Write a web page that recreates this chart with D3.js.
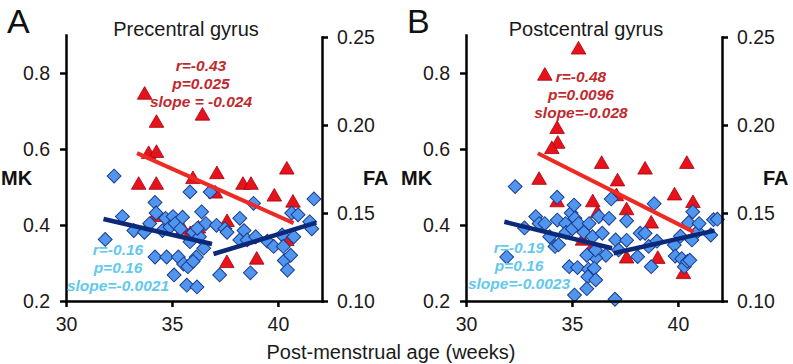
<!DOCTYPE html>
<html>
<head>
<meta charset="utf-8">
<script src="https://cdn.jsdelivr.net/npm/d3@7"></script>
<style>
  body { margin: 0; background: #fff; }
  svg text { font-family: "Liberation Sans", Arial, sans-serif; }
  .axis path, .axis line { stroke: #000; stroke-width: 2.5px; }
  .axis text { font-size: 19.5px; fill: #1a1a1a; }
</style>
</head>
<body>
<svg id="chart" width="793" height="364"></svg>
<script>
// ---- data ----
var ageTicks = [30, 35, 40];
var mkTicks = [0.2, 0.4, 0.6, 0.8];
var faTicks = [0.10, 0.15, 0.20, 0.25];

// Precentral gyrus: MK (red triangles, left axis)
var preMkAge = [33.71, 34.27, 36.44, 33.9, 34.27, 40.42, 37.12, 35.99, 33.43, 34.26, 38.35, 38.73,
                37.05, 39.83, 40.71, 34.2, 35.52, 36.25, 37.6, 37.59, 39.0, 40.42, 35.86];
var preMk    = [0.742, 0.668, 0.687, 0.586, 0.589, 0.545, 0.533, 0.520, 0.505, 0.505, 0.505, 0.505,
                0.482, 0.474, 0.458, 0.420, 0.387, 0.390, 0.407, 0.299, 0.308, 0.357, 0.375];
// Precentral gyrus: FA (blue diamonds, right axis)
var preFaAge = [31.85, 32.27, 32.66, 33.2, 33.7, 33.95, 34.2, 34.25, 34.2, 34.55, 34.7, 34.75, 34.9, 35.05,
                35.15, 35.1, 35.3, 35.4, 35.5, 35.55, 35.75, 35.7, 35.85, 35.85, 36.0, 36.15, 36.0, 36.18,
                36.3, 36.4, 36.5, 36.6, 36.8, 37.1, 37.25, 37.5, 37.6, 38.2, 38.2, 38.4, 38.55, 38.7,
                38.85, 38.95, 39.5, 39.8, 40.2, 40.25, 40.3, 40.45, 40.6, 40.65, 40.75, 40.95, 41.5,
                41.6, 41.7, 36.2];
var preFa    = [0.135, 0.171, 0.148, 0.140, 0.139, 0.144, 0.156, 0.150, 0.125, 0.140, 0.147, 0.125, 0.142, 0.148,
                0.144, 0.1148, 0.125, 0.141, 0.1476, 0.121, 0.1195, 0.109, 0.162, 0.1337, 0.139, 0.125, 0.1225, 0.108,
                0.1365, 0.1507, 0.130, 0.144, 0.162, 0.143, 0.1148, 0.141, 0.139, 0.147, 0.1347, 0.140, 0.1347, 0.116,
                0.1555, 0.1365, 0.134, 0.131, 0.1375, 0.131, 0.123, 0.1176, 0.126, 0.150, 0.1365, 0.149, 0.145,
                0.141, 0.158, 0.1413];
var preMkFit = [[33.35, 0.589], [40.74, 0.405]];
var preFaFit1 = [[31.77, 0.1466], [36.89, 0.1324]];
var preFaFit2 = [[36.96, 0.1267], [41.81, 0.1445]];

// Postcentral gyrus: MK
var postMkAge = [35.31, 33.72, 34.3, 34.33, 34.05, 36.4, 38.45, 40.42, 33.45, 37.15, 39.84, 35.98,
                 34.3, 40.71, 37.58, 38.74, 36.2, 35.5, 35.92, 37.58, 39.05, 40.26, 37.1];
var postMk    = [0.861, 0.792, 0.652, 0.613, 0.599, 0.560, 0.545, 0.560, 0.518, 0.514, 0.477, 0.459,
                 0.459, 0.457, 0.438, 0.403, 0.430, 0.358, 0.336, 0.311, 0.310, 0.270, 0.475];
// Postcentral gyrus: FA
var postFaAge = [31.92, 32.32, 32.76, 33.29, 33.45, 33.72, 33.95, 34.2, 34.3, 34.31, 34.37, 34.7, 34.72, 34.96,
                 35.02, 35.1, 35.14, 35.31, 35.56, 35.81, 35.97, 36.27, 36.43, 36.75, 36.85, 37.06, 37.2,
                 37.58, 37.58, 36.6, 36.12, 35.7, 34.87, 35.26, 35.78, 36.05, 35.75, 36.12, 35.7, 35.12,
                 37.03, 38.1, 38.22, 38.45, 38.62, 38.74, 38.88, 39.01, 39.83, 39.87, 40.12, 40.18, 40.3,
                 40.45, 40.56, 40.5, 40.66, 40.7, 40.93, 41.0, 41.55, 41.68, 41.86, 36.11];
var postFa    = [0.125, 0.165, 0.1415, 0.148, 0.144, 0.144, 0.1365, 0.131, 0.159, 0.146, 0.132, 0.144, 0.139, 0.150,
                 0.141, 0.1545, 0.147, 0.144, 0.139, 0.144, 0.1365, 0.148, 0.1385, 0.147, 0.158, 0.1347, 0.129,
                 0.1456, 0.1345, 0.126, 0.1245, 0.126, 0.1195, 0.119, 0.118, 0.1186, 0.1138, 0.112, 0.107, 0.1034,
                 0.101, 0.1252, 0.1385, 0.1385, 0.131, 0.1195, 0.1553, 0.134, 0.1318, 0.1255, 0.1368, 0.124, 0.1195,
                 0.1225, 0.1232, 0.1445, 0.1347, 0.1507, 0.1395, 0.144, 0.1375, 0.1462, 0.1465, 0.129];
var postMkFit = [[33.39, 0.589], [40.74, 0.382]];
var postFaFit1 = [[31.81, 0.145], [36.89, 0.130]];
var postFaFit2 = [[36.97, 0.1271], [41.73, 0.140]];

var preMkStats = ["r=-0.43", "p=0.025", "slope = -0.024"];
var preFaStats = ["r=-0.16", "p=0.16", "slope=-0.0021"];
var postMkStats = ["r=-0.48", "p=0.0096", "slope=-0.028"];
var postFaStats = ["r=-0.19", "p=0.16", "slope=-0.0023"];

// ---- layout ----
var svg = d3.select("svg#chart"),
    width = 256,
    plotTop = 35,
    plotBottom = 301;

var redFill = "#e8121b", redEdge = "#a30010", redLine = "#ee2a25", redText = "#bf2a2e";
var blueFill = "#5096ee", blueEdge = "#1b3b8e", navy = "#0c2878", cyanText = "#63c8ef";

function pairs(xs, ys) { return xs.map(function(d, i) { return [d, ys[i]]; }); }

function drawPanel(p) {
  var g = svg.append("g").attr("transform", "translate(" + p.left + ",0)");

  var x = d3.scaleLinear().domain([30, 42.08]).range([0, width]);
  var yMK = d3.scaleLinear().domain([0.2, 0.9]).range([plotBottom, plotTop]);
  var yFA = d3.scaleLinear().domain([0.10, 0.25]).range([plotBottom, 37]);

  // points
  var tri = d3.symbol().type(d3.symbolTriangle).size(92);
  var dia = d3.symbol().type(d3.symbolSquare).size(96);

  g.selectAll(".tri")
      .data(pairs(p.mkAge, p.mk))
    .enter().append("path")
      .attr("class", "tri")
      .attr("d", tri)
      .attr("transform", function(d) { return "translate(" + x(d[0]) + "," + yMK(d[1]) + ")"; })
      .attr("fill", redFill)
      .attr("stroke", redEdge)
      .attr("stroke-width", 0.8);

  g.selectAll(".dia")
      .data(pairs(p.faAge, p.fa))
    .enter().append("path")
      .attr("class", "dia")
      .attr("d", dia)
      .attr("transform", function(d) { return "translate(" + x(d[0]) + "," + yFA(d[1]) + ") rotate(45)"; })
      .attr("fill", blueFill)
      .attr("stroke", blueEdge)
      .attr("stroke-width", 1);

  // fit lines
  var lineMK = d3.line().x(function(d) { return x(d[0]); }).y(function(d) { return yMK(d[1]); });
  var lineFA = d3.line().x(function(d) { return x(d[0]); }).y(function(d) { return yFA(d[1]); });

  g.append("path").datum(p.mkFit).attr("d", lineMK)
      .attr("fill", "none").attr("stroke", redLine).attr("stroke-width", 4);
  [p.faFit1, p.faFit2].forEach(function(seg) {
    g.append("path").datum(seg).attr("d", lineFA)
        .attr("fill", "none").attr("stroke", navy).attr("stroke-width", 4.5);
  });

  // axes
  g.append("g")
      .attr("class", "axis")
      .call(d3.axisLeft(yMK).tickValues(mkTicks).tickFormat(d3.format(".1f"))
        .tickSizeInner(6).tickSizeOuter(0).tickPadding(10));

  g.append("g")
      .attr("class", "axis")
      .attr("transform", "translate(" + width + ",0)")
      .call(d3.axisRight(yFA).tickValues(faTicks).tickFormat(d3.format(".2f"))
        .tickSizeInner(6).tickSizeOuter(0).tickPadding(9));

  g.append("g")
      .attr("class", "axis")
      .attr("transform", "translate(0," + plotBottom + ")")
      .call(d3.axisBottom(x).tickValues(ageTicks).tickFormat(d3.format("d"))
        .tickSizeInner(6).tickSizeOuter(0).tickPadding(10));

  g.selectAll(".axis path.domain").attr("stroke-linecap", "square");

  // stats text
  function stats(lines, cx, y0, color) {
    var t = g.append("text")
        .attr("text-anchor", "middle")
        .style("font-size", "15.5px")
        .style("font-weight", "bold")
        .style("font-style", "italic")
        .attr("fill", color);
    lines.forEach(function(s, i) {
      t.append("tspan").attr("x", cx).attr("y", y0 + i * 18).text(s);
    });
  }
  stats(p.mkStats, p.mkStatsX, p.mkStatsY, redText);
  stats(p.faStats, p.faStatsX, p.faStatsY, cyanText);

  // titles / labels
  g.append("text")
      .attr("x", width / 2 - 8)
      .attr("y", 36)
      .attr("text-anchor", "middle")
      .style("font-size", "20px")
      .attr("fill", "#1a1a1a")
      .text(p.title);

  svg.append("text")
      .attr("x", p.left - 59)
      .attr("y", 33)
      .style("font-size", "34px")
      .attr("fill", "#111")
      .text(p.letter);

  svg.append("text")
      .attr("x", p.left - 65)
      .attr("y", 185)
      .style("font-size", "20px")
      .style("font-weight", "bold")
      .attr("fill", "#111")
      .text("MK");

  svg.append("text")
      .attr("x", p.left + width + 41)
      .attr("y", 185)
      .style("font-size", "20px")
      .style("font-weight", "bold")
      .attr("fill", "#111")
      .text("FA");
}

drawPanel({
  left: 66, letter: "A", title: "Precentral gyrus",
  mkAge: preMkAge, mk: preMk, faAge: preFaAge, fa: preFa,
  mkFit: preMkFit, faFit1: preFaFit1, faFit2: preFaFit2,
  mkStats: preMkStats, mkStatsX: 135, mkStatsY: 71,
  faStats: preFaStats, faStatsX: 52, faStatsY: 255
});

drawPanel({
  left: 466, letter: "B", title: "Postcentral gyrus",
  mkAge: postMkAge, mk: postMk, faAge: postFaAge, fa: postFa,
  mkFit: postMkFit, faFit1: postFaFit1, faFit2: postFaFit2,
  mkStats: postMkStats, mkStatsX: 115, mkStatsY: 82,
  faStats: postFaStats, faStatsX: 53, faStatsY: 253
});

svg.append("text")
    .attr("x", 391)
    .attr("y", 359)
    .attr("text-anchor", "middle")
    .style("font-size", "20px")
    .attr("fill", "#1a1a1a")
    .text("Post-menstrual age (weeks)");
</script>
</body>
</html>
